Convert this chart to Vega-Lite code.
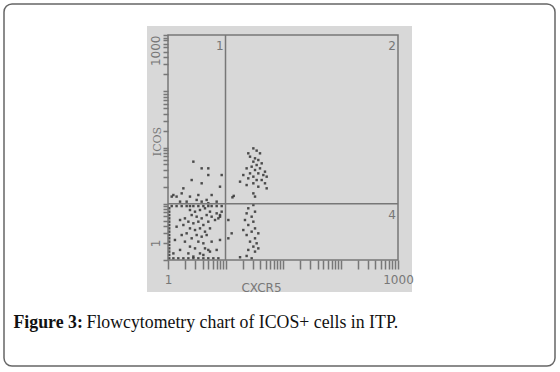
{
  "$schema": "https://vega.github.io/schema/vega-lite/v6.json",
  "width": 551,
  "height": 362,
  "autosize": {"type": "none"},
  "padding": {"left": 4, "top": 4, "right": 5, "bottom": 6},
  "background": "white",
  "config": {
    "view": {"stroke": "#666666", "strokeWidth": 1.5, "cornerRadius": 8, "fill": "white"},
    "axis": {"grid": false, "zindex": 1}
  },
  "data": {"values": [{}]},
  "datasets": {
    "cells": [
      {"x": 2.76, "y": 56.0}, {"x": 3.85, "y": 42.6}, {"x": 5.02, "y": 42.6}, {"x": 2.58, "y": 26.4},
      {"x": 3.85, "y": 23.1}, {"x": 5.02, "y": 32.4}, {"x": 8.58, "y": 32.4}, {"x": 8.02, "y": 20.1},
      {"x": 1.85, "y": 18.8}, {"x": 1.24, "y": 14.3}, {"x": 1.16, "y": 13.4}, {"x": 1.41, "y": 13.4},
      {"x": 1.73, "y": 15.3}, {"x": 2.41, "y": 13.4}, {"x": 3.37, "y": 14.3}, {"x": 4.70, "y": 11.7},
      {"x": 5.74, "y": 14.3}, {"x": 2.11, "y": 10.9}, {"x": 1.62, "y": 10.9}, {"x": 7.02, "y": 10.9},
      {"x": 3.85, "y": 10.9}, {"x": 3.15, "y": 11.7}, {"x": 5.02, "y": 10.2},
      {"x": 1.05, "y": 8.3}, {"x": 1.05, "y": 7.23}, {"x": 1.05, "y": 6.3}, {"x": 1.05, "y": 5.5},
      {"x": 1.05, "y": 4.8}, {"x": 1.05, "y": 4.19}, {"x": 1.05, "y": 3.65}, {"x": 1.05, "y": 3.19},
      {"x": 1.05, "y": 2.78}, {"x": 1.05, "y": 2.43}, {"x": 1.05, "y": 2.12}, {"x": 1.05, "y": 1.85},
      {"x": 1.05, "y": 1.61}, {"x": 1.05, "y": 1.41}, {"x": 1.05, "y": 1.23}, {"x": 1.05, "y": 1.07},
      {"x": 1.24, "y": 1.07}, {"x": 1.51, "y": 1.07}, {"x": 1.85, "y": 1.07}, {"x": 2.26, "y": 1.07},
      {"x": 2.76, "y": 1.07}, {"x": 3.37, "y": 1.07}, {"x": 4.12, "y": 1.07}, {"x": 5.02, "y": 1.07},
      {"x": 6.14, "y": 1.07}, {"x": 7.51, "y": 1.07},
      {"x": 1.16, "y": 9.1}, {"x": 1.41, "y": 9.1}, {"x": 1.73, "y": 9.1}, {"x": 2.11, "y": 9.1},
      {"x": 2.41, "y": 9.1}, {"x": 2.76, "y": 9.1}, {"x": 3.37, "y": 9.1}, {"x": 4.12, "y": 9.1},
      {"x": 5.02, "y": 9.1}, {"x": 5.74, "y": 9.1}, {"x": 7.02, "y": 9.1}, {"x": 8.58, "y": 9.1},
      {"x": 2.41, "y": 7.74}, {"x": 2.95, "y": 7.23}, {"x": 3.60, "y": 7.74}, {"x": 4.40, "y": 8.3},
      {"x": 5.37, "y": 7.23}, {"x": 7.02, "y": 6.75}, {"x": 8.02, "y": 5.89}, {"x": 2.58, "y": 6.3},
      {"x": 3.15, "y": 5.89}, {"x": 3.85, "y": 5.5}, {"x": 4.70, "y": 6.3}, {"x": 5.74, "y": 5.89},
      {"x": 1.97, "y": 5.5}, {"x": 1.62, "y": 5.14}, {"x": 2.26, "y": 4.8}, {"x": 2.76, "y": 4.49},
      {"x": 3.37, "y": 4.8}, {"x": 4.12, "y": 4.19}, {"x": 5.02, "y": 4.8}, {"x": 6.57, "y": 5.14},
      {"x": 1.85, "y": 4.19}, {"x": 1.41, "y": 3.91}, {"x": 2.41, "y": 3.65}, {"x": 2.95, "y": 3.41},
      {"x": 3.60, "y": 3.65}, {"x": 4.40, "y": 3.19}, {"x": 5.37, "y": 3.65}, {"x": 2.11, "y": 2.98},
      {"x": 1.73, "y": 2.78}, {"x": 3.15, "y": 2.78}, {"x": 3.85, "y": 2.60}, {"x": 4.70, "y": 2.78},
      {"x": 2.58, "y": 2.43}, {"x": 1.32, "y": 2.27}, {"x": 1.97, "y": 2.12}, {"x": 3.37, "y": 2.12},
      {"x": 4.12, "y": 1.98}, {"x": 5.74, "y": 2.12}, {"x": 8.02, "y": 2.27}, {"x": 2.41, "y": 1.73},
      {"x": 2.95, "y": 1.61}, {"x": 4.40, "y": 1.61}, {"x": 5.02, "y": 1.51}, {"x": 1.62, "y": 1.51},
      {"x": 2.26, "y": 1.31}, {"x": 3.60, "y": 1.31}, {"x": 5.37, "y": 1.41}, {"x": 7.02, "y": 1.51},
      {"x": 1.24, "y": 1.31}, {"x": 2.76, "y": 1.15}, {"x": 4.12, "y": 1.23}, {"x": 8.02, "y": 6.3},
      {"x": 8.58, "y": 7.23}, {"x": 7.51, "y": 5.5},
      {"x": 30.5, "y": 96.5}, {"x": 34.8, "y": 88.0}, {"x": 24.9, "y": 78.8}, {"x": 39.8, "y": 78.8},
      {"x": 26.7, "y": 68.7}, {"x": 32.6, "y": 64.2}, {"x": 37.2, "y": 59.9}, {"x": 30.5, "y": 56.0},
      {"x": 42.6, "y": 52.3}, {"x": 34.8, "y": 48.8}, {"x": 28.5, "y": 45.6}, {"x": 23.3, "y": 42.6},
      {"x": 39.8, "y": 42.6}, {"x": 32.6, "y": 39.8}, {"x": 48.6, "y": 37.2}, {"x": 26.7, "y": 34.7},
      {"x": 37.2, "y": 34.7}, {"x": 20.4, "y": 32.4}, {"x": 45.5, "y": 32.4}, {"x": 30.5, "y": 30.3},
      {"x": 52.0, "y": 30.3}, {"x": 24.9, "y": 28.3}, {"x": 34.8, "y": 26.4}, {"x": 42.6, "y": 26.4},
      {"x": 17.9, "y": 24.7}, {"x": 30.5, "y": 23.1}, {"x": 48.6, "y": 23.1}, {"x": 23.3, "y": 21.5},
      {"x": 37.2, "y": 20.1}, {"x": 52.0, "y": 18.8}, {"x": 30.5, "y": 15.3}, {"x": 32.6, "y": 13.4},
      {"x": 30.5, "y": 9.5}, {"x": 24.9, "y": 8.3}, {"x": 32.6, "y": 7.23}, {"x": 23.3, "y": 6.75},
      {"x": 28.5, "y": 5.89}, {"x": 21.8, "y": 5.14}, {"x": 30.5, "y": 4.8}, {"x": 24.9, "y": 4.19},
      {"x": 32.6, "y": 3.65}, {"x": 20.4, "y": 3.41}, {"x": 28.5, "y": 3.19}, {"x": 37.2, "y": 2.98},
      {"x": 23.3, "y": 2.78}, {"x": 32.6, "y": 2.43}, {"x": 26.7, "y": 2.12}, {"x": 34.8, "y": 1.98},
      {"x": 30.5, "y": 1.73}, {"x": 37.2, "y": 1.61}, {"x": 24.9, "y": 1.51}, {"x": 32.6, "y": 1.41},
      {"x": 17.9, "y": 1.12}, {"x": 23.3, "y": 1.18}, {"x": 28.5, "y": 1.07},
      {"x": 11.2, "y": 5.14}, {"x": 12.8, "y": 2.98}, {"x": 11.2, "y": 2.43},
      {"x": 13.2, "y": 13.0}, {"x": 13.9, "y": 13.8}
    ],
    "quadrants": [
      {"q": "1", "x": 8.0, "y": 6370},
      {"q": "2", "x": 7870, "y": 6370},
      {"q": "4", "x": 7870, "y": 6.3}
    ]
  },
  "resolve": {"axis": {"x": "independent", "y": "independent"}},
  "layer": [
    {
      "mark": {"type": "rect", "fill": "#d8d8d8"},
      "encoding": {
        "x": {"datum": 0.431, "type": "quantitative", "scale": {"type": "log", "domain": [0.001405, 5375000], "nice": false}, "axis": null},
        "x2": {"datum": 17520},
        "y": {"datum": 0.27, "type": "quantitative", "scale": {"type": "log", "domain": [0.01305, 35570], "nice": false}, "axis": null},
        "y2": {"datum": 14454}
      }
    },
    {
      "data": {"name": "cells"},
      "mark": {"type": "point", "shape": "square", "filled": true, "size": 6, "color": "#333333", "opacity": 0.85},
      "encoding": {
        "x": {
          "field": "x", "type": "quantitative",
          "scale": {"type": "log", "domain": [0.001405, 5375000], "nice": false},
          "axis": {
            "orient": "bottom", "offset": -106, "domain": false, "zindex": 1,
            "values": [1,2,3,4,5,6,7,8,9,10,20,30,40,50,60,70,80,90,100,200,300,400,500,600,700,800,900,1000,2000,3000,4000,5000,6000,7000,8000,9000,10000],
            "labelExpr": "datum.value == 1 ? '1' : (datum.value == 10000 ? '1000' : '')",
            "labelOverlap": false, "labelFlush": true,
            "tickSize": 9, "tickColor": "#777777", "tickWidth": 1.5,
            "labelFont": "DejaVu Sans", "labelFontSize": 12, "labelColor": "#777777", "labelPadding": 5,
            "title": "CXCR5", "titleFont": "DejaVu Sans", "titleFontSize": 12, "titleFontWeight": "normal",
            "titleColor": "#777777", "titleX": 257, "titleY": 27, "titleAlign": "center", "titleBaseline": "middle", "titleAngle": 0
          }
        },
        "y": {
          "field": "y", "type": "quantitative",
          "scale": {"type": "log", "domain": [0.01305, 35570], "nice": false},
          "axis": {
            "orient": "left", "offset": -164, "domain": false, "zindex": 1,
            "values": [1,2,3,4,5,6,7,8,9,10,20,30,40,50,60,70,80,90,100,200,300,400,500,600,700,800,900,1000,2000,3000,4000,5000,6000,7000,8000,9000,10000],
            "labelExpr": "datum.value == 1 ? '1' : (datum.value == 10000 ? '1000' : '')",
            "labelOverlap": false, "labelFlush": false, "labelAngle": 270,
            "labelAlign": {"condition": {"test": "datum.value == 10000", "value": "right"}, "value": "center"},
            "labelOffset": {"condition": {"test": "datum.value == 1", "value": -17}, "value": 0},
            "labelBaseline": "bottom",
            "tickSize": 5, "tickColor": "#777777", "tickWidth": 1.5,
            "labelFont": "DejaVu Sans", "labelFontSize": 12, "labelColor": "#777777", "labelPadding": 1,
            "title": "ICOS", "titleFont": "DejaVu Serif", "titleFontSize": 11, "titleFontWeight": "normal",
            "titleColor": "#777777", "titleX": -6, "titleY": 137, "titleAngle": 270, "titleAlign": "center", "titleBaseline": "bottom"
          }
        }
      }
    },
    {
      "mark": {"type": "rect", "fill": null, "fillOpacity": 0, "stroke": "#777777", "strokeWidth": 1.5},
      "encoding": {
        "x": {
          "datum": 1, "type": "quantitative",
          "scale": {"type": "log", "domain": [0.001405, 5375000], "nice": false},
          "axis": {
            "orient": "top", "domain": false, "ticks": false, "labels": false, "grid": false, "zindex": 1,
            "title": "Flowcytometry chart of ICOS+ cells in ITP.",
            "titleFont": "Liberation Serif", "titleFontSize": 17.8, "titleFontWeight": "normal", "titleColor": "#111111",
            "titleX": 82, "titleY": 323, "titleAlign": "left", "titleBaseline": "alphabetic", "titleAngle": 0
          }
        },
        "x2": {"datum": 10000},
        "y": {"datum": 1, "type": "quantitative", "scale": {"type": "log", "domain": [0.01305, 35570], "nice": false}, "axis": null},
        "y2": {"datum": 10000}
      }
    },
    {
      "mark": {"type": "rule", "color": "#777777", "strokeWidth": 1.5},
      "encoding": {
        "x": {"datum": 10, "type": "quantitative", "scale": {"type": "log", "domain": [0.001405, 5375000], "nice": false}, "axis": null},
        "y": {"datum": 1, "type": "quantitative", "scale": {"type": "log", "domain": [0.01305, 35570], "nice": false}, "axis": null},
        "y2": {"datum": 10000}
      }
    },
    {
      "mark": {"type": "rule", "color": "#777777", "strokeWidth": 1.5},
      "encoding": {
        "y": {"datum": 10, "type": "quantitative", "scale": {"type": "log", "domain": [0.01305, 35570], "nice": false}, "axis": null},
        "x": {"datum": 1, "type": "quantitative", "scale": {"type": "log", "domain": [0.001405, 5375000], "nice": false}, "axis": null},
        "x2": {"datum": 10000}
      }
    },
    {
      "data": {"name": "quadrants"},
      "mark": {"type": "text", "font": "DejaVu Sans", "fontSize": 12, "color": "#777777"},
      "encoding": {
        "x": {"field": "x", "type": "quantitative", "scale": {"type": "log", "domain": [0.001405, 5375000], "nice": false}, "axis": null},
        "y": {
          "field": "y", "type": "quantitative",
          "scale": {"type": "log", "domain": [0.01305, 35570], "nice": false},
          "axis": {
            "orient": "right", "domain": false, "ticks": false, "labels": false, "grid": false, "zindex": 1,
            "title": "Figure 3:",
            "titleFont": "Liberation Serif", "titleFontSize": 17.8, "titleFontWeight": "bold", "titleColor": "#111111",
            "titleX": -542, "titleY": 323, "titleAlign": "left", "titleBaseline": "alphabetic", "titleAngle": 0
          }
        },
        "text": {"field": "q"}
      }
    }
  ]
}
